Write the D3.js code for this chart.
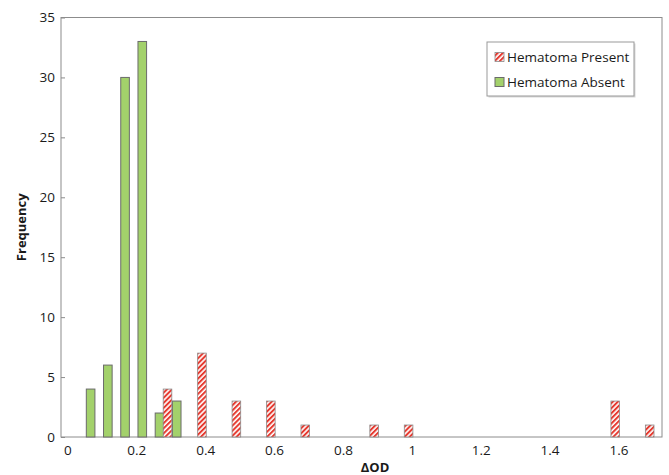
<!DOCTYPE html>
<html lang="en">
<head>
<meta charset="UTF-8">
<title>Hematoma histogram</title>
<script src="https://cdnjs.cloudflare.com/ajax/libs/d3/7.8.5/d3.min.js"></script>
<style>
  body { margin: 0; background: #fff; }
  text { font-family: "Open Sans", "DejaVu Sans", sans-serif; fill: #1a1a1a; }
  .tick-text { font-size: 13.5px; }
  .axis-title { font-size: 13px; font-weight: bold; }
  .legend-text { font-size: 13.5px; }
  rect.absent { fill: #a3d16b; stroke: #6b6b6b; stroke-width: 1; }
  rect.present { fill: url(#hatch); stroke: #8a8a8a; stroke-width: 0.8; }
</style>
</head>
<body>
<div id="chart"></div>
<script>
// bins are 0.05 wide, named by their upper edge
var binUpper = [0.1, 0.15, 0.2, 0.25, 0.3, 0.35, 0.4, 0.5, 0.6, 0.7, 0.9, 1.0, 1.6, 1.7];
var absentCounts = [4, 6, 30, 33, 2, 3, 0, 0, 0, 0, 0, 0, 0, 0];
var presentCounts = [0, 0, 0, 0, 4, 0, 7, 3, 3, 1, 1, 1, 3, 1];
var xTicks = [0, 0.2, 0.4, 0.6, 0.8, 1, 1.2, 1.4, 1.6];
var yTicks = [0, 5, 10, 15, 20, 25, 30, 35];
var seriesNames = ["Hematoma Present", "Hematoma Absent"];
var binWidth = 0.05;

(function() {
  var width = 669, height = 475;
  var left = 61, right = 662, top = 17.5, bottom = 437;

  var svg = d3.select("#chart").append("svg")
    .attr("width", width)
    .attr("height", height);

  var defs = svg.append("defs");
  var pat = defs.append("pattern")
    .attr("id", "hatch")
    .attr("patternUnits", "userSpaceOnUse")
    .attr("width", 3.6)
    .attr("height", 3.6)
    .attr("patternTransform", "rotate(45)");
  pat.append("rect").attr("width", 3.6).attr("height", 3.6).attr("fill", "#fff");
  pat.append("rect").attr("width", 2).attr("height", 3.6).attr("fill", "#e63a30");

  var x = d3.scaleLinear().domain([-0.02, 1.725]).range([left, right]);
  var y = d3.scaleLinear().domain([0, 35]).range([bottom, top]);

  // frame
  svg.append("rect")
    .attr("x", left).attr("y", top)
    .attr("width", right - left).attr("height", bottom - top)
    .attr("fill", "none").attr("stroke", "#8c8c8c").attr("stroke-width", 1);

  // y ticks (inside) and labels
  var yAxis = svg.append("g").attr("transform", "translate(" + left + ",0)")
    .call(d3.axisRight(y).tickValues(yTicks).tickSize(4).tickFormat(""));
  yAxis.select(".domain").remove();
  yAxis.selectAll("line").attr("stroke", "#8c8c8c");

  svg.selectAll("text.ylab").data(yTicks).enter().append("text")
    .attr("class", "tick-text ylab")
    .attr("x", left - 6)
    .attr("y", function(d) { return y(d); })
    .attr("dy", "0.35em")
    .attr("text-anchor", "end")
    .text(function(d) { return d; });

  svg.selectAll("text.xlab").data(xTicks).enter().append("text")
    .attr("class", "tick-text xlab")
    .attr("x", function(d) { return x(d); })
    .attr("y", bottom + 18)
    .attr("text-anchor", "middle")
    .text(function(d) { return d; });

  // bars
  var bins = binUpper.map(function(u, i) {
    return { u: u, absent: absentCounts[i], present: presentCounts[i] };
  });

  svg.selectAll("rect.absent").data(bins.filter(function(d) { return d.absent > 0; }))
    .enter().append("rect")
    .attr("class", "absent")
    .attr("x", function(d) { return x(d.u - binWidth) + 1.2; })
    .attr("width", function(d) { return x(d.u - binWidth / 2) - x(d.u - binWidth); })
    .attr("y", function(d) { return y(d.absent); })
    .attr("height", function(d) { return y(0) - y(d.absent); });

  svg.selectAll("rect.present").data(bins.filter(function(d) { return d.present > 0; }))
    .enter().append("rect")
    .attr("class", "present")
    .attr("x", function(d) { return x(d.u - binWidth / 2) + 0.6; })
    .attr("width", function(d) { return x(d.u) - x(d.u - binWidth / 2); })
    .attr("y", function(d) { return y(d.present); })
    .attr("height", function(d) { return y(0) - y(d.present); });

  // axis titles
  svg.append("text")
    .attr("class", "axis-title")
    .attr("x", 375).attr("y", 472)
    .attr("text-anchor", "middle")
    .text("ΔOD");

  svg.append("text")
    .attr("class", "axis-title")
    .attr("transform", "translate(26," + ((top + bottom) / 2) + ") rotate(-90)")
    .attr("text-anchor", "middle")
    .text("Frequency");

  // legend
  var lg = svg.append("g").attr("transform", "translate(487,42)");
  lg.append("rect")
    .attr("x", 1.5).attr("y", 1.5).attr("width", 147).attr("height", 54)
    .attr("fill", "#d8d8d8");
  lg.append("rect")
    .attr("width", 147).attr("height", 54)
    .attr("fill", "#fff").attr("stroke", "#999");
  var items = [{ name: seriesNames[0], cls: "present" }, { name: seriesNames[1], cls: "absent" }];
  items.forEach(function(it, i) {
    var cy = 15 + i * 25;
    lg.append("rect").attr("class", it.cls)
      .attr("x", 8).attr("y", cy - 4.5).attr("width", 9).attr("height", 9);
    lg.append("text").attr("class", "legend-text")
      .attr("x", 20).attr("y", cy).attr("dy", "0.35em")
      .text(it.name);
  });
})();
</script>
</body>
</html>
